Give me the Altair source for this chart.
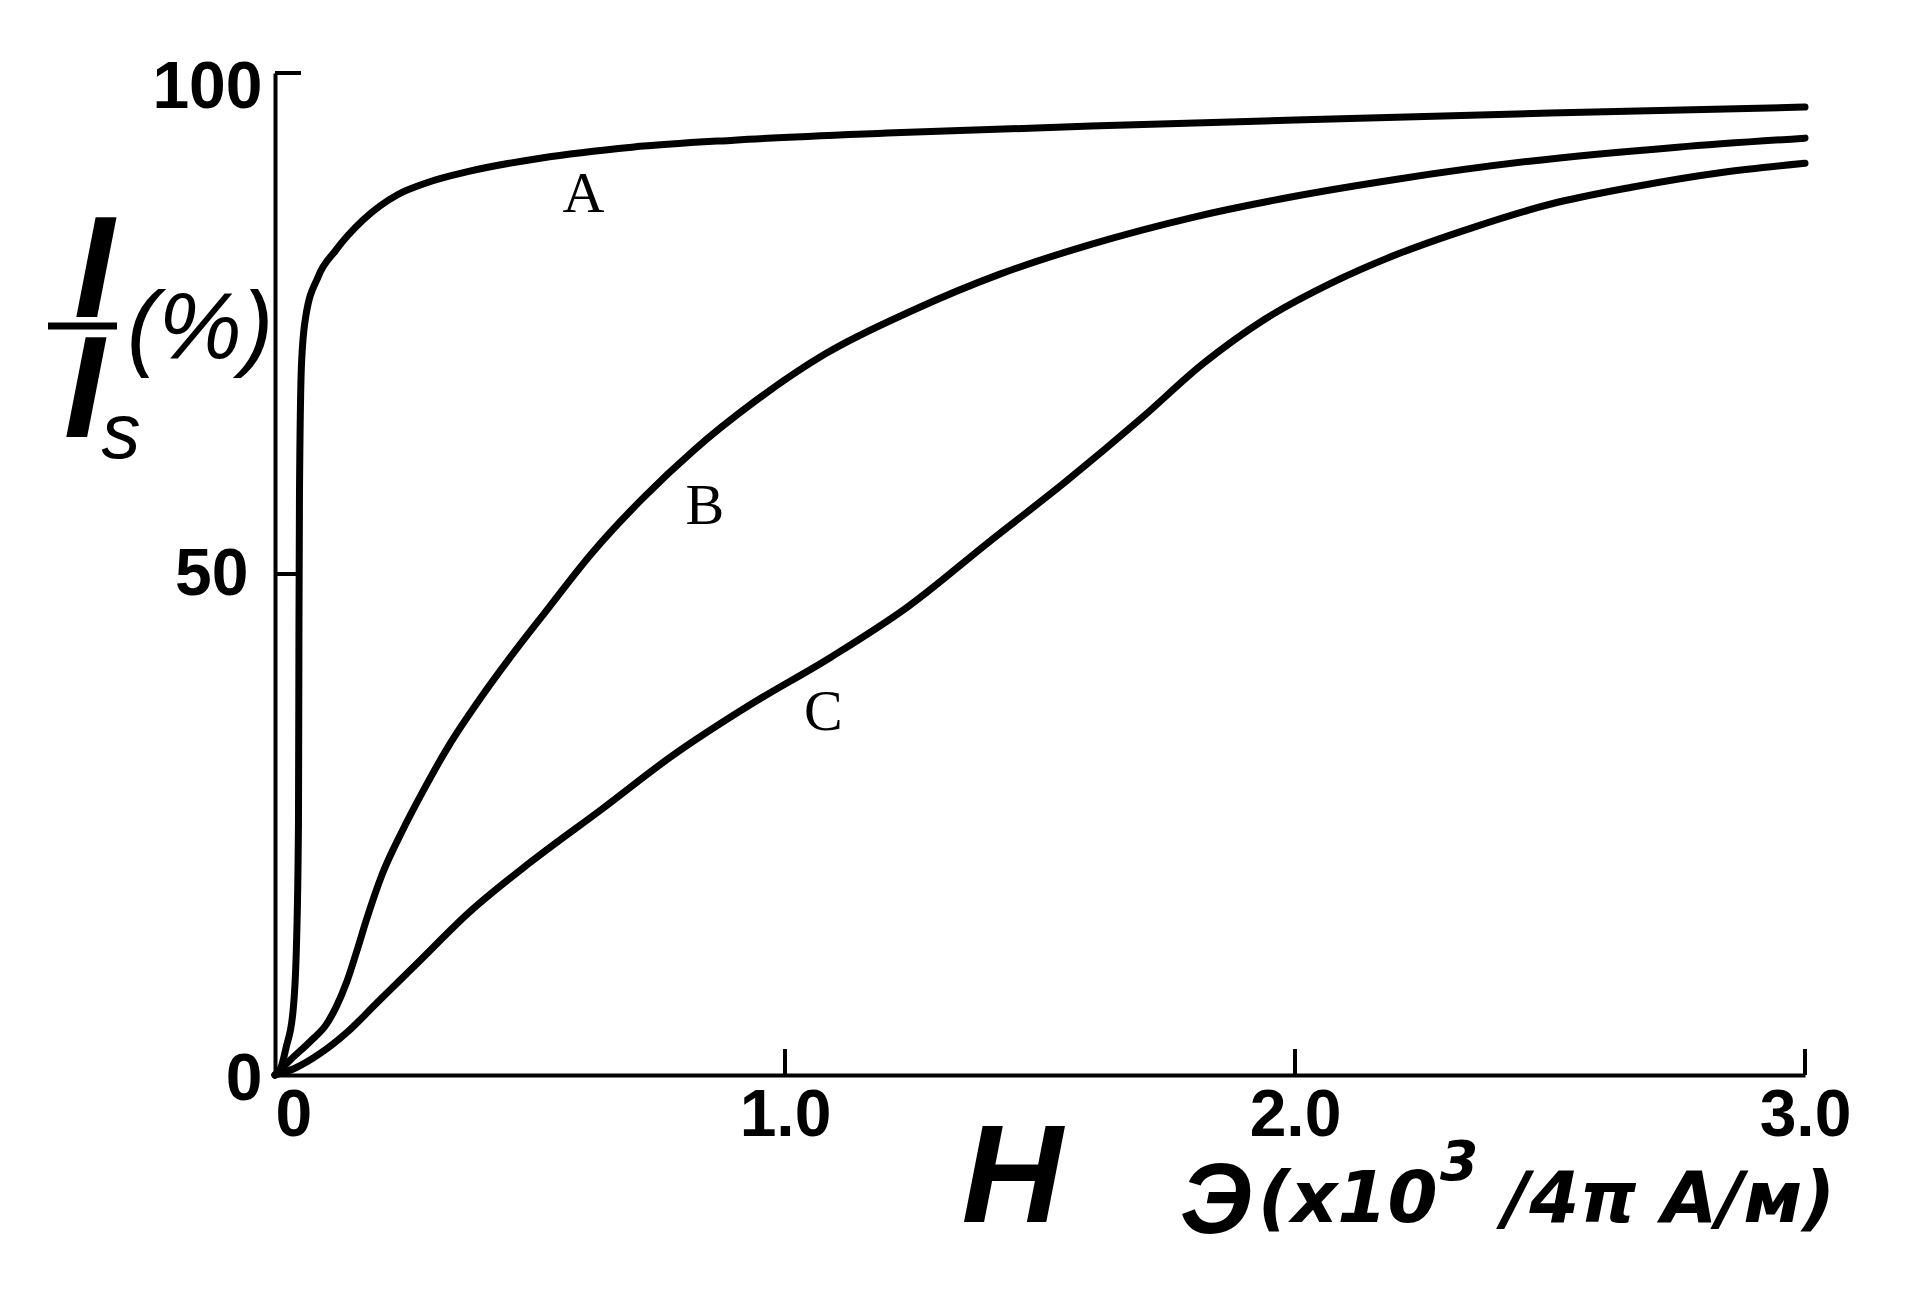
import altair as alt
import pandas as pd

# ---- data ----
a_x = [0, 0.012, 0.022, 0.035, 0.042, 0.046, 0.047, 0.048, 0.052, 0.060, 0.084, 0.119, 0.172, 0.242, 0.295, 0.382, 0.52, 0.7, 0.9, 1.2, 1.6, 2.0, 2.5, 3.0]
a_y = [0, 0.8, 2.8, 6.2, 12.8, 25, 45, 58, 71.0, 75.6, 79.6, 82.3, 85.3, 87.9, 89.0, 90.2, 91.5, 92.6, 93.3, 94.0, 94.7, 95.3, 96.0, 96.6]

b_x = [0, 0.03, 0.07, 0.1, 0.12, 0.14, 0.16, 0.18, 0.21, 0.25, 0.29, 0.34, 0.4, 0.46, 0.53, 0.62, 0.72, 0.82, 0.94, 1.08, 1.25, 1.42, 1.6, 1.8, 2.0, 2.2, 2.46, 2.75, 3.0]
b_y = [0, 1.5, 3.4, 5.0, 6.8, 9.2, 12.3, 15.6, 20.0, 24.4, 28.3, 32.8, 37.4, 41.6, 46.2, 52.0, 57.5, 62.3, 67.2, 72.0, 76.3, 79.9, 82.9, 85.6, 87.7, 89.4, 91.2, 92.6, 93.5]

c_x = [0, 0.04, 0.09, 0.14, 0.2, 0.28, 0.38, 0.5, 0.64, 0.78, 0.93, 1.09, 1.24, 1.4, 1.55, 1.7, 1.82, 1.94, 2.07, 2.2, 2.35, 2.5, 2.66, 2.84, 3.0]
c_y = [0, 0.7, 2.2, 4.2, 7.2, 11.2, 16.2, 21.2, 26.5, 31.9, 36.9, 41.7, 46.7, 53.2, 59.2, 65.6, 71.0, 75.4, 79.0, 81.9, 84.6, 86.9, 88.6, 90.1, 91.0]

curve_names = ["A", "B", "C"]
label_x = [0.605, 0.843, 1.075]
label_y = [87.8, 56.7, 36.1]

x_ticks = [0, 1, 2, 3]
y_ticks = [0, 50, 100]
x_inner_ticks = [1, 2, 3]
y_inner_ticks = [50, 100]

rows = []
for name, xs, ys in zip(curve_names, [a_x, b_x, c_x], [a_y, b_y, c_y]):
    for xv, yv in zip(xs, ys):
        rows.append({"curve": name, "H": xv, "I": yv})
df = pd.DataFrame(rows)
labels_df = pd.DataFrame({"name": curve_names, "H": label_x, "I": label_y})

W, H = 1530, 1002

xscale = alt.Scale(domain=[0, 3], nice=False, zero=False)
yscale = alt.Scale(domain=[0, 100], nice=False, zero=False)

x_axis = alt.Axis(
    values=x_ticks, title=None, grid=False, ticks=False,
    domainColor="black", domainWidth=4,
    labelExpr="datum.value == 0 ? '0' : format(datum.value, '.1f')",
    labelFont="Liberation Sans", labelFontWeight="bold", labelFontSize=66,
    labelColor="black", labelPadding=8, labelFlush=False, labelOverlap=False,
    labelAlign={"condition": {"test": "datum.value === 0", "value": "left"}, "value": "center"},
)
y_axis = alt.Axis(
    values=y_ticks, title=None, grid=False, ticks=False,
    domainColor="black", domainWidth=4,
    labelFont="Liberation Sans", labelFontWeight="bold", labelFontSize=66,
    labelColor="black", labelFlush=False, labelOverlap=False,
    labelPadding={"condition": {"test": "datum.value === 50", "value": 27}, "value": 13},
    labelOffset={"condition": [{"test": "datum.value === 100", "value": 14},
                               {"test": "datum.value === 0", "value": 4}], "value": 0},
)

curves = alt.Chart(df).mark_line(
    color="black", strokeWidth=7, interpolate="monotone", strokeCap="round", strokeJoin="round"
).encode(
    x=alt.X("H:Q", scale=xscale, axis=x_axis),
    y=alt.Y("I:Q", scale=yscale, axis=y_axis),
    detail="curve:N",
)

curve_labels = alt.Chart(labels_df).mark_text(
    font="Liberation Serif", fontSize=58, color="black", baseline="middle", align="center"
).encode(
    x=alt.X("H:Q", scale=xscale, axis=x_axis),
    y=alt.Y("I:Q", scale=yscale, axis=y_axis),
    text="name:N",
)

xt = alt.Chart(pd.DataFrame({"t": x_inner_ticks})).mark_tick(
    orient="vertical", size=26, thickness=4, color="black", yOffset=-13, opacity=1
).encode(
    x=alt.X("t:Q", scale=xscale, axis=x_axis),
    y=alt.Y(datum=0, type="quantitative", scale=yscale, axis=y_axis),
)
yt = alt.Chart(pd.DataFrame({"t": y_inner_ticks})).mark_tick(
    orient="horizontal", size=26, thickness=4, color="black", xOffset=13, opacity=1
).encode(
    y=alt.Y("t:Q", scale=yscale, axis=y_axis),
    x=alt.X(datum=0, type="quantitative", scale=xscale, axis=x_axis),
)

one = pd.DataFrame({"k": [0]})

def txt(s, x, y, size, font="Liberation Sans", weight="bold", style="italic", align="left", baseline="alphabetic"):
    return alt.Chart(one).mark_text(
        text=s, font=font, fontSize=size, fontWeight=weight, fontStyle=style,
        align=align, baseline=baseline, color="black"
    ).encode(x=alt.value(x), y=alt.value(y))

# y-axis title: I / I_s (%)
t_i_top = txt("I", -181, 244, 145, align="center")
t_i_bot = txt("I", -191, 364, 145, align="center")
t_s = txt("s", -154, 385, 78, weight="normal", align="center")
t_pct = txt("(%)", -148, 285, 94, weight="normal")
frac = alt.Chart(one).mark_rule(color="black", strokeWidth=7).encode(
    x=alt.value(-227), x2=alt.value(-158), y=alt.value(253)
)

# x-axis title: H   Э(x10^3 /4π А/м)
t_H = txt("H", 737, 1149, 140, align="center")
t_E = txt("Э", 905, 1160, 100)
t_x10 = txt("(x10", 983, 1149, 72, font="DejaVu Sans")
t_3 = txt("3", 1165, 1107, 55, font="DejaVu Sans")
t_rest = txt("/4π А/м)", 1228, 1149, 72, font="DejaVu Sans")

chart = alt.layer(
    curves, curve_labels, xt, yt,
    t_i_top, t_i_bot, t_s, t_pct, frac,
    t_H, t_E, t_x10, t_3, t_rest,
).properties(
    width=W, height=H,
    autosize=alt.AutoSizeParams(type="none"),
    padding={"left": 267, "top": 65, "right": 100, "bottom": 220},
    background="white",
).configure_view(strokeWidth=0)

chart.save("out.html", embed_options={"renderer": "svg", "actions": False})
